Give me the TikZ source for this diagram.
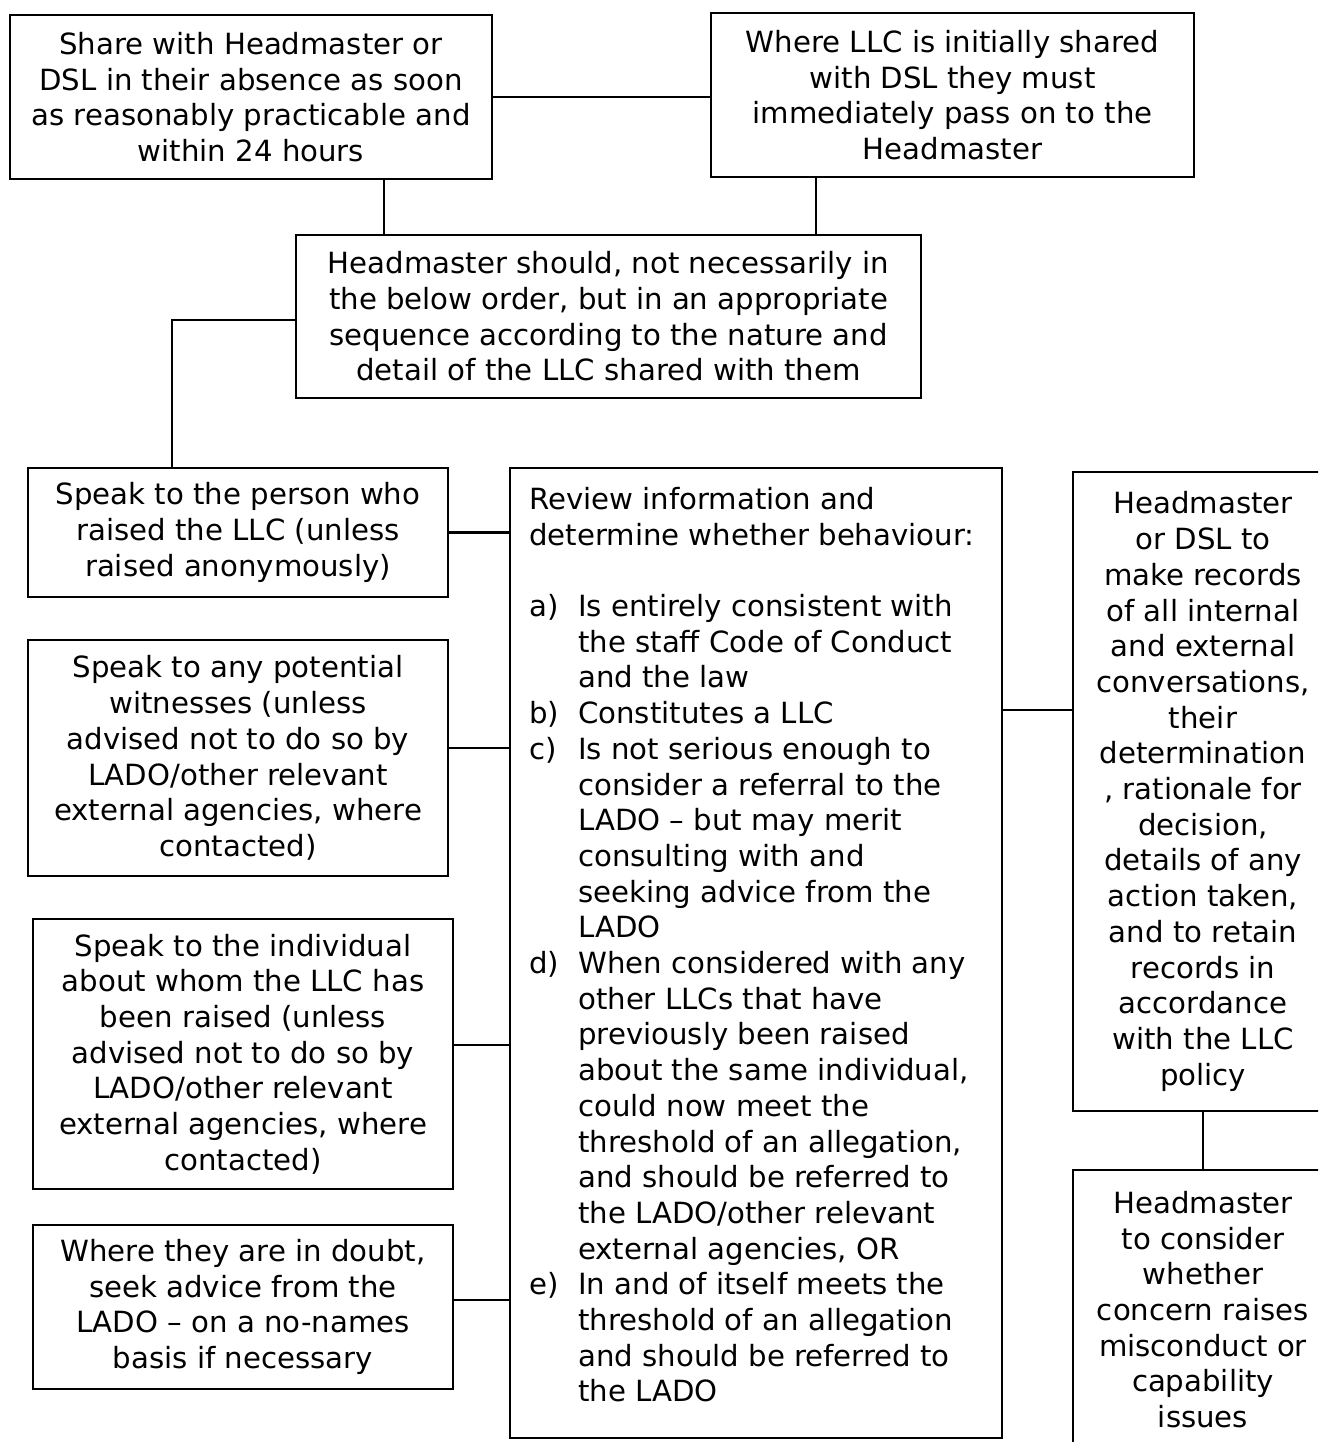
\documentclass[tikz,border=0pt]{standalone}
\usepackage{fontspec}
\setmainfont{DejaVu Sans}
\newcommand\lab[1]{\makebox[49pt][l]{#1}}
\newcommand\ind{\hspace*{49pt}}
\begin{document}
\begin{tikzpicture}[x=1pt,y=-1pt,
  box/.style={draw=black,line width=1.9pt,inner sep=0pt,align=center,
    font=\fontsize{29.2}{35.7}\selectfont},
  link/.style={line width=2.4pt},
  thin/.style={line width=1.2pt},
  txt/.style={inner sep=0pt,align=left,font=\fontsize{29.2}{35.7}\selectfont}]
\useasboundingbox (0,0) rectangle (1318,1442);
\clip (0,0) rectangle (1318,1442);

\node[box,minimum width=482pt,minimum height=164pt] (A) at (251,97)
  {Share with Headmaster or\\DSL in their absence as soon\\as reasonably practicable and\\within 24 hours};
\node[box,minimum width=483pt,minimum height=164pt] (B) at (952.5,95)
  {Where LLC is initially shared\\with DSL they must\\immediately pass on to the\\Headmaster};
\node[box,minimum width=625pt,minimum height=163pt] (C) at (608.5,316.5)
  {Headmaster should, not necessarily in\\the below order, but in an appropriate\\sequence according to the nature and\\detail of the LLC shared with them};
\node[box,minimum width=420pt,minimum height=129pt] (D) at (238,532.5)
  {Speak to the person who\\raised the LLC (unless\\raised anonymously)};
\node[box,minimum width=420pt,minimum height=236pt] (F) at (238,758)
  {Speak to any potential\\witnesses (unless\\advised not to do so by\\LADO/other relevant\\external agencies, where\\contacted)};
\node[box,minimum width=420pt,minimum height=270pt] (G) at (243,1054)
  {Speak to the individual\\about whom the LLC has\\been raised (unless\\advised not to do so by\\LADO/other relevant\\external agencies, where\\contacted)};
\node[box,minimum width=420pt,minimum height=164pt] (H) at (243,1307)
  {Where they are in doubt,\\seek advice from the\\LADO – on a no-names\\basis if necessary};
\node[box,minimum width=492pt,minimum height=970pt] (E) at (756,953) {};
\node[txt,anchor=north west] (Etext) at (529,487)
  {Review information and\\
   determine whether behaviour:\\[35.7pt]
   \lab{a)}Is entirely consistent with\\
   \ind the staff Code of Conduct\\
   \ind and the law\\
   \lab{b)}Constitutes a LLC\\
   \lab{c)}Is not serious enough to\\
   \ind consider a referral to the\\
   \ind LADO – but may merit\\
   \ind consulting with and\\
   \ind seeking advice from the\\
   \ind LADO\\
   \lab{d)}When considered with any\\
   \ind other LLCs that have\\
   \ind previously been raised\\
   \ind about the same individual,\\
   \ind could now meet the\\
   \ind threshold of an allegation,\\
   \ind and should be referred to\\
   \ind the LADO/other relevant\\
   \ind external agencies, OR\\
   \lab{e)}In and of itself meets the\\
   \ind threshold of an allegation\\
   \ind and should be referred to\\
   \ind the LADO};
\node[box,minimum width=260pt,minimum height=639pt] (I) at (1203,791.5)
  {Headmaster\\or DSL to\\make records\\of all internal\\and external\\conversations,\\their\\determination\\, rationale for\\decision,\\details of any\\action taken,\\and to retain\\records in\\accordance\\with the LLC\\policy};
\node[box,minimum width=260pt,minimum height=279pt] (J) at (1203,1309.5)
  {Headmaster\\to consider\\whether\\concern raises\\misconduct or\\capability\\issues};

\draw[link] (A.east) -- (A.east -| B.west);
\draw[link] ([xshift=133pt]A.south) -- ([xshift=133pt]A.south |- C.north);
\draw[link] ([xshift=-136.5pt]B.south) -- ([xshift=-136.5pt]B.south |- C.north);
\draw[link] ([yshift=-3.5pt]C.west) -| ([xshift=-66pt]D.north);
\draw[link] (D.east) -- (D.east -| E.west);
\draw[link] ([yshift=10pt]F.east) -- ([yshift=10pt]F.east -| E.west);
\draw[link] ([yshift=9pt]G.east) -- ([yshift=9pt]G.east -| E.west);
\draw[link] ([yshift=7pt]H.east) -- ([yshift=7pt]H.east -| E.west);
\draw[thin] ([yshift=81.5pt]I.west) -- ([yshift=81.5pt]I.west -| E.east);
\draw[thin] (I.south) -- (J.north);
\end{tikzpicture}
\end{document}
